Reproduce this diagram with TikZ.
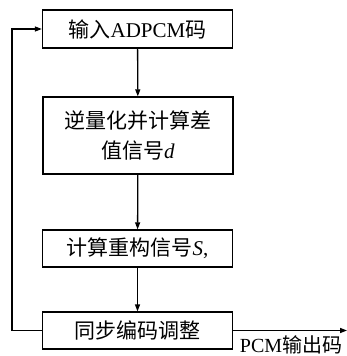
\documentclass[tikz,border=0pt]{standalone}
\usepackage{fontspec}
\setmainfont{Liberation Serif}
\newfontfamily\cjk{Noto Sans CJK SC}
\usetikzlibrary{arrows.meta}
\begin{document}
\begin{tikzpicture}[x=1pt,y=-1pt,
  box/.style={draw,line width=1.3pt,minimum width=190pt,inner sep=0pt,align=center,
    font=\fontsize{21}{34}\selectfont},
  conn/.style={line width=1.3pt},
  arr/.style={conn,-{Triangle[length=7pt,width=5pt]}}]
\useasboundingbox (0,0) rectangle (347,356);
\node[box,minimum height=38pt] (b1) at (137.5,29) {{\cjk 输入}ADPCM{\cjk 码}};
\node[box,minimum height=77pt] (b2) at (138,135.5) {{\cjk 逆量化并计算差}\\[-4pt]{\cjk 值信号}\textit{d}};
\node[box,minimum height=37pt] (b3) at (137.5,248.5) {{\cjk 计算重构信号}\textit{S},};
\node[box,minimum height=37pt] (b4) at (137.5,330.5) {{\cjk 同步编码调整}};
\coordinate (lb) at (12,330.5);
\coordinate (lt) at (12,29);
\coordinate (out) at (347,330.5);
\node[font=\fontsize{20}{24}\selectfont,inner sep=0pt] (lab) at (291,344.5) {PCM{\cjk 输出码}};
\draw[arr] (b1) -- (b2);
\draw[arr] (b2) -- (b3);
\draw[arr] (b3) -- (b4);
\draw[arr] (b4.west) -- (lb) -- (lt) -- (b1.west);
\draw[arr] (b4.east) -- (out);
\end{tikzpicture}
\end{document}
